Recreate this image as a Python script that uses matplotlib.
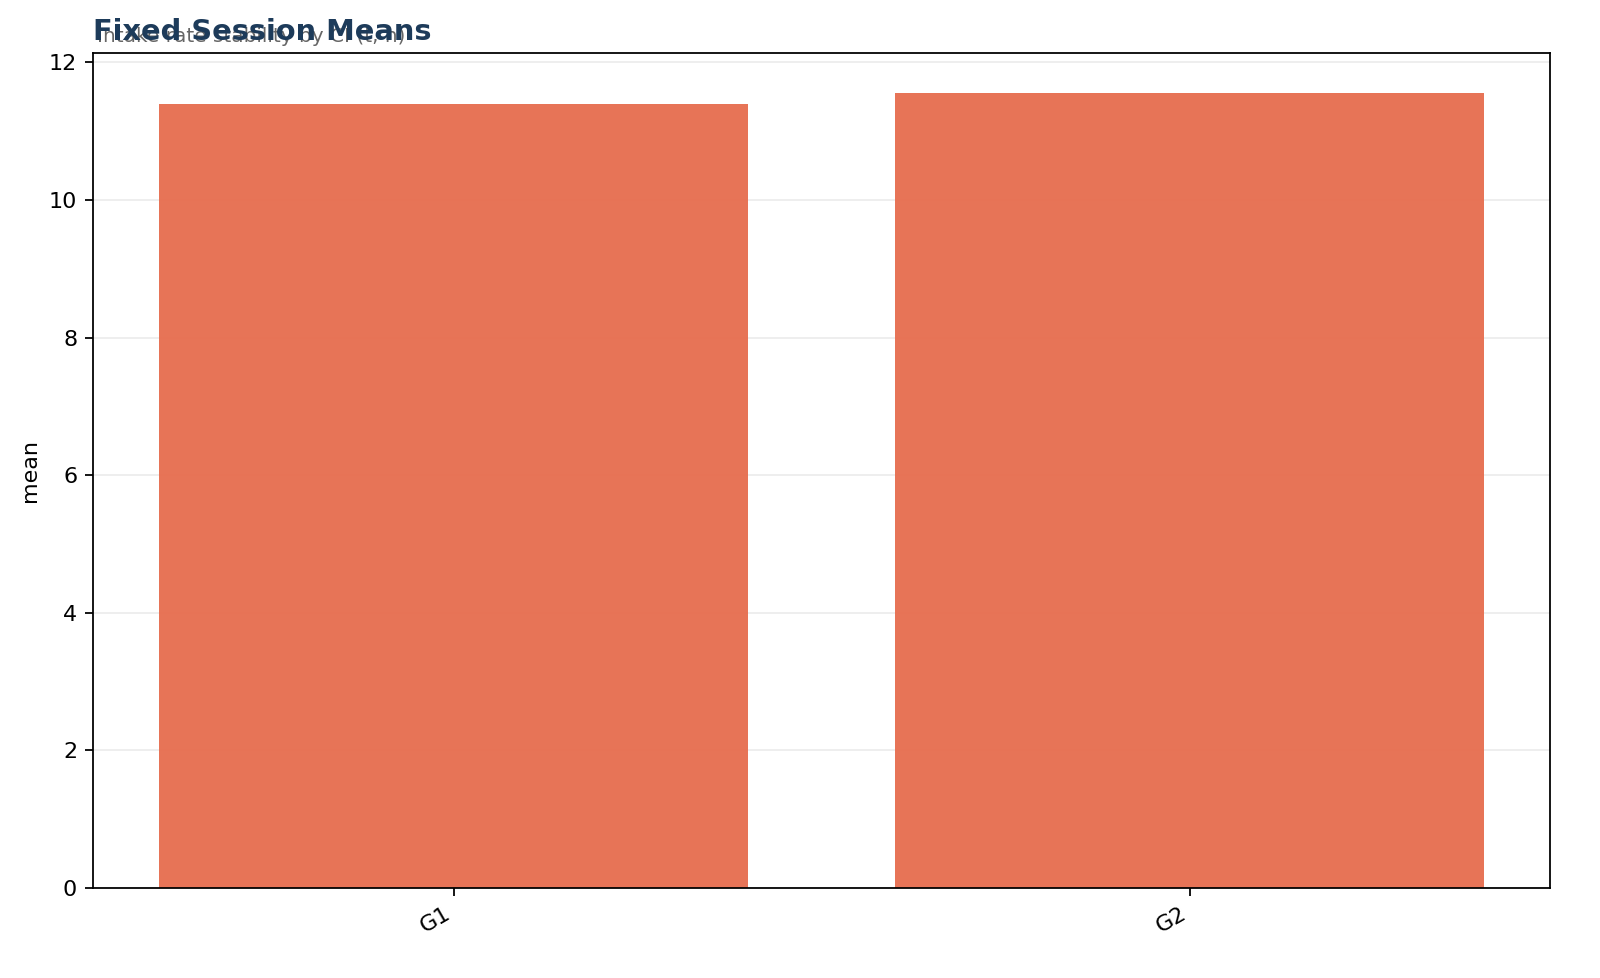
import matplotlib
matplotlib.use("Agg")
import matplotlib.pyplot as plt

groups = ["G1", "G2"]
means = [11.39, 11.56]

title = "Fixed Session Means"
subtitle = "Intake rate stability by CI (t, n)"

fig, ax = plt.subplots(figsize=(10, 6.1125), dpi=160)
ax.bar(groups, means, width=0.8, color="#E76F51", alpha=0.97, zorder=2)
ax.grid(axis="y", color="#ececec", linewidth=0.8, zorder=0)
ax.set_axisbelow(True)
ax.set_ylabel("mean")
plt.setp(ax.get_xticklabels(), rotation=30, ha="right")

ax.text(0.003, 1.008, subtitle, transform=ax.transAxes, fontsize=9,
        color="#666666", ha="left", va="bottom")
ax.text(0.0, 1.008, title, transform=ax.transAxes, fontsize=13,
        fontweight="bold", color="#1d3b5a", ha="left", va="bottom")

fig.subplots_adjust(left=0.058, right=0.969, top=0.946, bottom=0.092)
fig.savefig("out.png", dpi=160)
